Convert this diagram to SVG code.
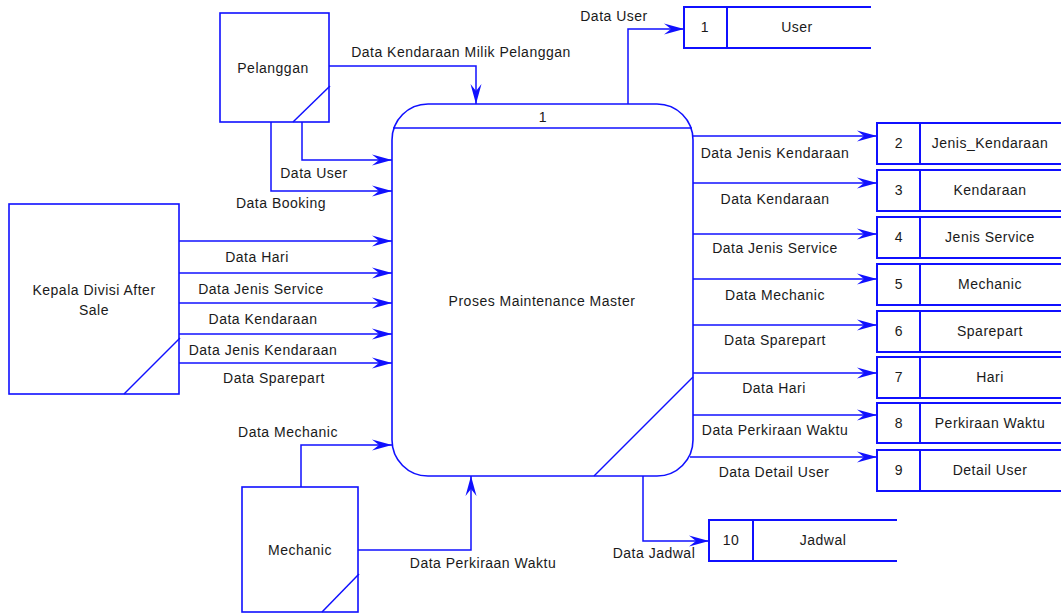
<svg xmlns="http://www.w3.org/2000/svg" width="1061" height="614" viewBox="0 0 1061 614">
  <defs>
    <style>
      .ln { fill: none; stroke: #1010ff; stroke-width: 1.5; }
      .bx { fill: #ffffff; stroke: #1010ff; stroke-width: 1.6; }
      .st { fill: none; stroke: #1010ff; stroke-width: 2; }
      .flow { fill: none; stroke: #1010ff; stroke-width: 1.5; marker-end: url(#arr); }
      text { font-family: "Liberation Sans", Arial, sans-serif; font-size: 14px; fill: #1a1a1a; text-anchor: middle; letter-spacing: 0.5px; }
    </style>
    <marker id="arr" markerUnits="userSpaceOnUse" markerWidth="22" markerHeight="12" viewBox="-21 -6 22 12" refX="0" refY="0" orient="auto">
      <path d="M0,0 L-20,-5.5 L-13,0 L-20,5.5 Z" fill="#1010ff"/>
    </marker>
  </defs>
  <rect width="1061" height="614" fill="#ffffff"/>

  <!-- external entities -->
  <g id="pelanggan">
    <rect class="bx" x="220" y="13" width="109" height="109" stroke-width="2.5"/>
    <line class="ln" x1="293" y1="122" x2="330" y2="86"/>
    <text x="273" y="73">Pelanggan</text>
  </g>
  <g id="kepala-divisi">
    <rect class="bx" x="9" y="204" width="170" height="190"/>
    <line class="ln" x1="124" y1="394" x2="180" y2="338"/>
    <text x="94" y="295">Kepala Divisi After</text>
    <text x="94" y="315">Sale</text>
  </g>
  <g id="mechanic">
    <rect class="bx" x="242" y="487" width="116" height="125"/>
    <line class="ln" x1="322" y1="612" x2="359" y2="574"/>
    <text x="300" y="555">Mechanic</text>
  </g>

  <!-- process -->
  <g id="proses">
    <rect class="bx" x="392" y="104" width="301" height="372" rx="36" ry="36"/>
    <line class="ln" x1="393" y1="128" x2="692" y2="128"/>
    <line class="ln" x1="594" y1="476" x2="693" y2="377"/>
    <text x="543" y="122">1</text>
    <text x="542" y="306">Proses Maintenance Master</text>
  </g>

  <!-- data stores -->
  <g id="store-1">
    <path class="st" d="M871,7 H684 V48 H871 M727,7 V48"/>
    <text x="705" y="32">1</text>
    <text x="797" y="32">User</text>
  </g>
  <g id="store-2">
    <path class="st" d="M1062,123 H877 V164 H1062 M920,123 V164"/>
    <text x="899" y="148">2</text>
    <text x="990" y="148">Jenis_Kendaraan</text>
  </g>
  <g id="store-3">
    <path class="st" d="M1062,170 H877 V211 H1062 M920,170 V211"/>
    <text x="899" y="195">3</text>
    <text x="990" y="195">Kendaraan</text>
  </g>
  <g id="store-4">
    <path class="st" d="M1062,217 H877 V258 H1062 M920,217 V258"/>
    <text x="899" y="242">4</text>
    <text x="990" y="242">Jenis Service</text>
  </g>
  <g id="store-5">
    <path class="st" d="M1062,264 H877 V305 H1062 M920,264 V305"/>
    <text x="899" y="289">5</text>
    <text x="990" y="289">Mechanic</text>
  </g>
  <g id="store-6">
    <path class="st" d="M1062,311 H877 V352 H1062 M920,311 V352"/>
    <text x="899" y="336">6</text>
    <text x="990" y="336">Sparepart</text>
  </g>
  <g id="store-7">
    <path class="st" d="M1062,357 H877 V398 H1062 M920,357 V398"/>
    <text x="899" y="382">7</text>
    <text x="990" y="382">Hari</text>
  </g>
  <g id="store-8">
    <path class="st" d="M1062,403 H877 V443 H1062 M920,403 V443"/>
    <text x="899" y="428">8</text>
    <text x="990" y="428">Perkiraan Waktu</text>
  </g>
  <g id="store-9">
    <path class="st" d="M1062,450 H877 V491 H1062 M920,450 V491"/>
    <text x="899" y="475">9</text>
    <text x="990" y="475">Detail User</text>
  </g>
  <g id="store-10">
    <path class="st" d="M897,520 H709 V561 H897 M753,520 V561"/>
    <text x="731" y="545">10</text>
    <text x="823" y="545">Jadwal</text>
  </g>

  <!-- data flows -->
  <g id="connectors">
    <path class="flow" d="M329,66 H476 V104"/>
    <path class="flow" d="M302,122 V160 H392"/>
    <path class="flow" d="M271,122 V191 H392"/>
    <path class="flow" d="M179,241 H392"/>
    <path class="flow" d="M179,273 H392"/>
    <path class="flow" d="M179,303 H392"/>
    <path class="flow" d="M179,334 H392"/>
    <path class="flow" d="M179,363 H392"/>
    <path class="flow" d="M301,487 V445 H392"/>
    <path class="flow" d="M358,550 H471 V476"/>
    <path class="flow" d="M628,104 V29 H684"/>
    <path class="flow" d="M693,136 H877"/>
    <path class="flow" d="M693,183 H877"/>
    <path class="flow" d="M693,234 H877"/>
    <path class="flow" d="M693,279 H877"/>
    <path class="flow" d="M693,325 H877"/>
    <path class="flow" d="M693,373 H877"/>
    <path class="flow" d="M693,415 H877"/>
    <path class="flow" d="M690,457 H877"/>
    <path class="flow" d="M643,476 V541 H709"/>
  </g>

  <!-- flow labels -->
  <g id="labels">
    <text x="461" y="57">Data Kendaraan Milik Pelanggan</text>
    <text x="314" y="178">Data User</text>
    <text x="281" y="208">Data Booking</text>
    <text x="257" y="262">Data Hari</text>
    <text x="261" y="294">Data Jenis Service</text>
    <text x="263" y="324">Data Kendaraan</text>
    <text x="263" y="355">Data Jenis Kendaraan</text>
    <text x="274" y="383">Data Sparepart</text>
    <text x="288" y="437">Data Mechanic</text>
    <text x="483" y="568">Data Perkiraan Waktu</text>
    <text x="614" y="21">Data User</text>
    <text x="775" y="158">Data Jenis Kendaraan</text>
    <text x="775" y="204">Data Kendaraan</text>
    <text x="775" y="253">Data Jenis Service</text>
    <text x="775" y="300">Data Mechanic</text>
    <text x="775" y="345">Data Sparepart</text>
    <text x="774" y="393">Data Hari</text>
    <text x="775" y="435">Data Perkiraan Waktu</text>
    <text x="774" y="477">Data Detail User</text>
    <text x="654" y="558">Data Jadwal</text>
  </g>
</svg>
